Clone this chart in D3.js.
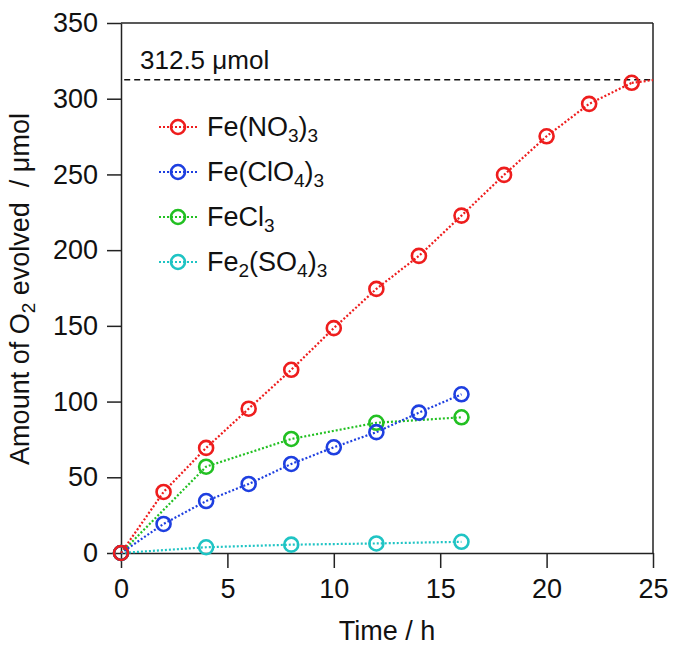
<!DOCTYPE html>
<html><head><meta charset="utf-8">
<script src="https://cdn.jsdelivr.net/npm/d3@7"></script>
<style>body{margin:0;background:#fff;} text{font-family:"Liberation Sans",Arial,sans-serif;fill:#111;}</style>
</head><body><svg id="c" width="673" height="647"></svg>
<script>
const xTicks = [0,5,10,15,20,25];
const yTicks = [0,50,100,150,200,250,300,350];
const timeNO3 = [0,2,4,6,8,10,12,14,16,18,20,22,24];
const valNO3  = [0,40.3,69.4,95.3,121,148.5,174.4,196.2,222.8,249.7,275.2,296.6,310.5];
const tailNO3 = [[24,310.5],[25,312.3]];
const timeClO4 = [0,2,4,6,8,10,12,14,16];
const valClO4  = [0,19.2,34.3,45.6,58.8,69.8,79.8,92.7,104.8];
const timeCl3 = [0,4,8,12,16];
const valCl3  = [0,57,75.3,86,89.6];
const timeSO4 = [0,4,8,12,16];
const valSO4  = [0,3.8,5.5,6.3,7.4];
const limit = 312.5;
const colors = ["#ee1d1d","#1e3fe0","#22c022","#1fc4c4"];
const FS = 27, SUB = 19;

const svg = d3.select("#c");
const L=121, R=653, T=23, B=553;
const x = d3.scaleLinear().domain([0,25]).range([L,R]);
const y = d3.scaleLinear().domain([0,350]).range([B,T]);

svg.append("line").attr("x1",L).attr("x2",R).attr("y1",T).attr("y2",T).attr("stroke","#222").attr("stroke-width",1.5);
svg.append("line").attr("x1",R).attr("x2",R).attr("y1",T).attr("y2",B).attr("stroke","#222").attr("stroke-width",1.5);

const xa = svg.append("g").attr("transform",`translate(0,${B})`)
  .call(d3.axisBottom(x).tickValues(xTicks).tickSize(15).tickPadding(11).tickSizeOuter(0));
const ya = svg.append("g").attr("transform",`translate(${L},0)`)
  .call(d3.axisLeft(y).tickValues(yTicks).tickSize(14).tickPadding(9).tickSizeOuter(0));
[xa,ya].forEach(a=>{
  a.select(".domain").attr("stroke","#222").attr("stroke-width",1.5);
  a.selectAll(".tick line").attr("stroke","#222").attr("stroke-width",1.5);
  a.selectAll(".tick text").attr("font-size",FS).attr("font-family","Liberation Sans, Arial, sans-serif").attr("fill","#111");
});

svg.append("line").attr("x1",x(0.15)).attr("x2",R).attr("y1",y(limit)).attr("y2",y(limit))
  .attr("stroke","#111").attr("stroke-width",1.5).attr("stroke-dasharray","6,4");
svg.append("text").attr("x",140).attr("y",y(limit)-11).attr("font-size",26).text("312.5 \u03bcmol");

const series = [
  {t:timeNO3,v:valNO3,c:colors[0]},
  {t:timeClO4,v:valClO4,c:colors[1]},
  {t:timeCl3,v:valCl3,c:colors[2]},
  {t:timeSO4,v:valSO4,c:colors[3]}
];
const line = d3.line().x(d=>x(d[0])).y(d=>y(d[1]));
series.slice().reverse().forEach(s=>{
  const pts = s.t.map((t,i)=>[t,s.v[i]]);
  svg.append("path").datum(pts).attr("d",line).attr("fill","none").attr("stroke",s.c)
    .attr("stroke-width",2.2).attr("stroke-dasharray","2,2");
});
svg.append("path").datum(tailNO3).attr("d",line).attr("fill","none").attr("stroke",colors[0])
  .attr("stroke-width",2.2).attr("stroke-dasharray","2,2");
series.slice().reverse().forEach(s=>{
  svg.append("g").selectAll("circle").data(s.t.map((t,i)=>[t,s.v[i]])).join("circle")
    .attr("cx",d=>x(d[0])).attr("cy",d=>y(d[1])).attr("r",7)
    .attr("fill","none").attr("stroke",s.c).attr("stroke-width",2.6);
});

const labels = [
  [["Fe(NO",0],["3",1],[")",0],["3",1]],
  [["Fe(ClO",0],["4",1],[")",0],["3",1]],
  [["FeCl",0],["3",1]],
  [["Fe",0],["2",1],["(SO",0],["4",1],[")",0],["3",1]]
];
const lg = svg.append("g");
labels.forEach((lab,i)=>{
  const cy = 127 + i*45;
  lg.append("line").attr("x1",159).attr("x2",197).attr("y1",cy).attr("y2",cy)
    .attr("stroke",colors[i]).attr("stroke-width",2.2).attr("stroke-dasharray","2,2");
  lg.append("circle").attr("cx",178).attr("cy",cy).attr("r",7).attr("fill","none")
    .attr("stroke",colors[i]).attr("stroke-width",2.6);
  const t = lg.append("text").attr("x",207).attr("y",cy+9).attr("font-size",FS);
  let prevSub=false;
  lab.forEach(([s,sub])=>{
    const ts = t.append("tspan").text(s);
    const dy = sub ? (prevSub?0:6) : (prevSub?-6:0);
    ts.attr("dy",dy);
    if(sub) ts.attr("font-size",SUB);
    prevSub = !!sub;
  });
});

svg.append("text").attr("x",387).attr("y",640).attr("text-anchor","middle").attr("font-size",FS).text("Time / h");
const yt = svg.append("text").attr("transform","translate(29,289) rotate(-90)").attr("text-anchor","middle").attr("font-size",FS);
yt.append("tspan").text("Amount of O");
yt.append("tspan").text("2").attr("font-size",SUB).attr("dy",6);
yt.append("tspan").text(" evolved\u00a0 / \u03bcmol").attr("dy",-6);
</script></body></html>
